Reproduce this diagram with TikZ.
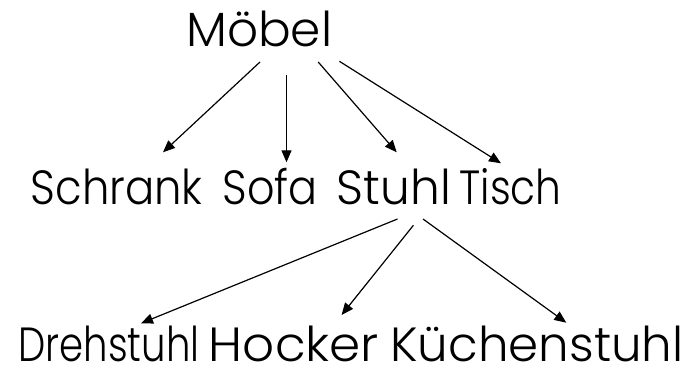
\documentclass[tikz,border=0pt]{standalone}
\usepackage{fontspec}
\IfFontExistsTF{Poppins Light}
  {\setmainfont{Poppins Light}}
  {\setmainfont{Poppins}}
\usetikzlibrary{arrows.meta,calc}
\newcommand{\fitword}[2]{\resizebox{#1pt}{\height}{#2}}
\tikzset{
  word/.style={inner sep=0pt, anchor=base, text depth=0pt, font=\fontsize{48}{54}\selectfont},
  arr/.style={line width=1.2pt, -{Triangle[length=12pt,width=10pt]}}
}
\begin{document}
\begin{tikzpicture}[x=1pt,y=-1pt]
\useasboundingbox (0,0) rectangle (691,371);
\node[word] (moebel) at (259.2,46.7) {\fitword{146}{Möbel}};
\node[word] (schrank) at (116.8,205) {\fitword{172}{Schrank}};
\node[word] (sofa) at (270,205) {\fitword{95}{Sofa}};
\node[word] (stuhl) at (394,205) {\fitword{114}{Stuhl}};
\node[word] (tisch) at (510.5,205) {\fitword{102}{Tisch}};
\node[word] (dreh) at (109,361.7) {\fitword{181}{Drehstuhl}};
\node[word] (hocker) at (294,361.7) {\fitword{170}{Hocker}};
\node[word] (kueche) at (537,361.7) {\fitword{293}{Küchenstuhl}};
\draw[arr] ($(moebel.base)+(0.8,15.3)$) -- ($(schrank.base)+(46.2,-52.7)$);
\draw[arr] ($(moebel.base)+(27.3,28.3)$) -- ($(sofa.base)+(16.5,-42.7)$);
\draw[arr] ($(moebel.base)+(59,15.3)$) -- ($(stuhl.base)+(2.7,-52.7)$);
\draw[arr] ($(moebel.base)+(80.2,14.6)$) -- ($(tisch.base)+(-9.5,-41.7)$);
\draw[arr] ($(stuhl.base)+(3.5,14)$) -- ($(dreh.base)+(32,-38.4)$);
\draw[arr] ($(stuhl.base)+(19.4,20.3)$) -- ($(hocker.base)+(47.6,-46.7)$);
\draw[arr] ($(stuhl.base)+(29,14)$) -- ($(kueche.base)+(29.3,-39)$);
\end{tikzpicture}
\end{document}
